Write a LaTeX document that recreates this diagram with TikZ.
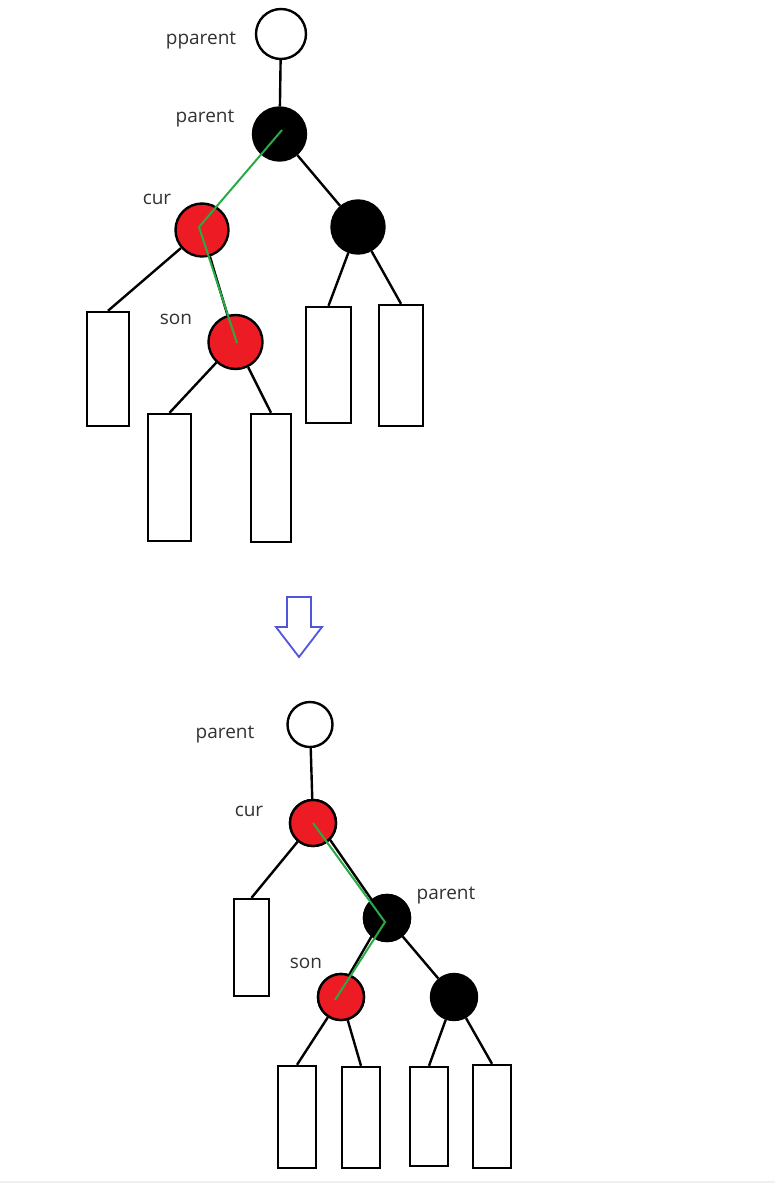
\documentclass[tikz,border=0pt]{standalone}
\usepackage{fontspec}
\setmainfont{Open Sans}
\begin{document}
\begin{tikzpicture}[x=1pt,y=-1pt,
  nd/.style={circle,draw=black,line width=2.4pt,inner sep=0pt},
  wn/.style={nd,fill=white},
  bn/.style={nd,fill=black},
  rn/.style={nd,fill=rbred},
  leaf/.style={draw=black,line width=2.4pt,fill=white,inner sep=0pt},
  edge/.style={draw=black,line width=2.4pt},
  path/.style={draw=pgreen,line width=2pt},
  lbl/.style={text=labelgray,font=\fontsize{19}{22}\selectfont,inner sep=0pt}
]
\definecolor{rbred}{RGB}{237,28,36}
\definecolor{pgreen}{RGB}{40,170,70}
\definecolor{labelgray}{RGB}{50,50,50}
\definecolor{arrowblue}{RGB}{80,85,220}
\useasboundingbox (0,0) rectangle (775,1183);
\fill[white] (0,0) rectangle (775,1183);
\fill[black!6] (0,1181) rectangle (775,1183);

% ---------- top tree ----------
\node[wn,minimum size=50pt] (pp) at (281,34) {};
\node[bn,minimum size=53pt] (pa) at (279.5,134) {};
\node[rn,minimum size=53pt] (cu) at (202,230) {};
\node[bn,minimum size=53pt] (rb) at (358,227) {};
\node[rn,minimum size=54pt] (so) at (235.5,342) {};

\node[leaf,minimum width=42pt,minimum height=114pt] (l1) at (108,369) {};
\node[leaf,minimum width=43pt,minimum height=127pt] (l2) at (169.5,477.5) {};
\node[leaf,minimum width=40pt,minimum height=128pt] (l3) at (271,478) {};
\node[leaf,minimum width=45pt,minimum height=116pt] (l4) at (328.5,365) {};
\node[leaf,minimum width=44pt,minimum height=121pt] (l5) at (401,365.5) {};

\node[lbl] (tpp) at (201,41) {pparent};
\node[lbl] (tpa) at (205,119) {parent};
\node[lbl] (tcu) at (157,199) {cur};
\node[lbl] (tso) at (176,319) {son};

\draw[edge] (pp) -- (pa);
\draw[edge] (pa) -- (rb);
\draw[edge] (cu) -- (l1.north);
\draw[edge] (cu) -- (so);
\draw[edge] (so) -- (l2.north);
\draw[edge] (so) -- (l3.north);
\draw[edge] (rb) -- (l4.north);
\draw[edge] (rb) -- (l5.north);

\draw[path] ([shift={(2.5,-4)}]pa.center) -- ([shift={(-3,-3)}]cu.center) -- ([shift={(1.5,1)}]so.center);

% ---------- arrow ----------
\coordinate (at) at (299,657);
\draw[arrowblue,line width=1.8pt,line join=miter]
  (287,597) -- (311,597) -- (311,627) -- (322,627) -- (at) -- (276,627) -- (287,627) -- cycle;

% ---------- bottom tree ----------
\node[wn,minimum size=45pt] (bp) at (310,724.5) {};
\node[rn,minimum size=46pt] (bc) at (313,823) {};
\node[bn,minimum size=46pt] (bq) at (387,918) {};
\node[rn,minimum size=46pt] (bs) at (341,997) {};
\node[bn,minimum size=46pt] (br) at (454,997) {};

\node[leaf,minimum width=35pt,minimum height=97pt] (m0) at (251.5,947.5) {};
\node[leaf,minimum width=38pt,minimum height=102pt] (m1) at (297,1117) {};
\node[leaf,minimum width=38pt,minimum height=101pt] (m2) at (361,1117.5) {};
\node[leaf,minimum width=38pt,minimum height=99pt] (m3) at (429,1116.5) {};
\node[leaf,minimum width=38pt,minimum height=103pt] (m4) at (492,1116.5) {};

\node[lbl] (bpl) at (225,735) {parent};
\node[lbl] (bcl) at (249,811) {cur};
\node[lbl] (bql) at (446,896) {parent};
\node[lbl] (bsl) at (306,963) {son};

\draw[edge] (bp) -- (bc);
\draw[edge] (bc) -- (m0.north);
\draw[edge] ([shift={(4,-2)}]bc.center) -- ([shift={(-4,-2)}]bq.center);
\draw[edge] (bq) -- (br);
\draw[edge] ([shift={(-3,-3)}]bq.center) -- ([shift={(-3,-3)}]bs.center);
\draw[edge] (bs) -- (m1.north);
\draw[edge] (bs) -- (m2.north);
\draw[edge] (br) -- (m3.north);
\draw[edge] (br) -- (m4.north);

% redraw nodes over the inner edges
\node[rn,minimum size=46pt] at (bc) {};
\node[bn,minimum size=46pt] at (bq) {};
\node[rn,minimum size=46pt] at (bs) {};

\draw[path] (bc.center) -- ([shift={(-2,4)}]bq.center) -- ([shift={(-6,3)}]bs.center);
\end{tikzpicture}
\end{document}
